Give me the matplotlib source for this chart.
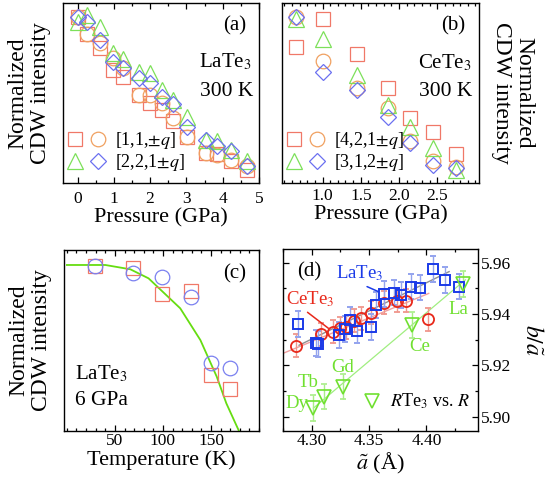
import matplotlib

matplotlib.use("Agg")
import matplotlib.pyplot as plt
from matplotlib.legend_handler import HandlerTuple
from matplotlib.ticker import FormatStrFormatter, MultipleLocator, NullLocator

plt.rcParams["font.family"] = ["Liberation Serif", "DejaVu Serif"]
plt.rcParams["mathtext.fontset"] = "stix"

# %%
# Datos

# (a) LaTe3, 300 K
p_la = [0, 0.26, 0.61, 0.97, 1.24, 1.69, 2.0, 2.32, 2.62, 3.02, 3.53, 3.85, 4.24, 4.67]
la_sq = [1.0, 0.896, 0.81, 0.68, 0.64, 0.53, 0.48, 0.44, 0.375, 0.28, 0.18, 0.175, 0.13, 0.08]
la_ci = [1.0, 0.90, 0.845, 0.75, 0.69, 0.53, 0.53, 0.48, 0.39, 0.28, 0.18, 0.17, 0.14, 0.105]
la_tr = [0.97, 1.01, 0.94, 0.78, 0.745, 0.67, 0.665, 0.56, 0.50, 0.40, 0.26, 0.25, 0.20, 0.13]
la_di = [1.0, 0.97, 0.86, 0.73, 0.69, 0.63, 0.60, 0.52, 0.475, 0.34, 0.26, 0.22, 0.19, 0.105]

# (b) CeTe3, 300 K
p_ce = [0.65, 1.0, 1.45, 1.85, 2.15, 2.45, 2.75]
ce_sq = [0.82, 0.99, 0.775, 0.575, 0.39, 0.31, 0.175]
ce_ci = [1.0, 0.735, 0.57, 0.45, 0.25, 0.135, 0.095]
ce_tr = [0.99, 0.865, 0.65, 0.47, 0.335, 0.21, 0.08]
ce_di = [1.0, 0.67, 0.56, 0.395, 0.24, 0.11, 0.09]

# (c) LaTe3, 6 GPa
t_la = [29, 69, 99, 129, 150, 170]
c_sq = [1.0, 0.986, 0.828, 0.85, 0.338, 0.251]
c_ci = [1.0, 0.956, 0.932, 0.814, 0.409, 0.379]
t_fit = [0, 40, 66, 85, 118, 139, 156, 166, 179]
i_fit = [1.006, 1.006, 0.98, 0.925, 0.743, 0.55, 0.328, 0.166, 0.0]

# (d) b/a vs a
a_la = [4.2878, 4.3035, 4.3059, 4.3242, 4.3292, 4.3336, 4.3393, 4.3516, 4.3563,
        4.3627, 4.3714, 4.3781, 4.3869, 4.3941, 4.4058, 4.4166, 4.4283]
r_la = [5.9361, 5.9288, 5.9283, 5.9318, 5.9341, 5.9377, 5.9335, 5.9348, 5.9435,
        5.9478, 5.9483, 5.9473, 5.9507, 5.9503, 5.9574, 5.9533, 5.9507]
a_ce = [4.2864, 4.3085, 4.3184, 4.3248, 4.3301, 4.3365, 4.3432, 4.3519, 4.3633,
        4.3743, 4.3825, 4.4011]
r_ce = [5.9276, 5.932, 5.9331, 5.9344, 5.9348, 5.9373, 5.9383, 5.9405, 5.9444,
        5.9451, 5.9451, 5.9380]
a_r = [4.3015, 4.3108, 4.3277, 4.3874, 4.432]
r_r = [5.9033, 5.9078, 5.9117, 5.9357, 5.9517]
nombres_r = ["Dy", "Tb", "Gd", "Ce", "La"]
pos_nombres = [(4.2869, 5.9050), (4.2971, 5.9133), (4.3274, 5.9192), (4.3946, 5.9273), (4.4283, 5.9416)]
err_la = 0.005
err_ce = 0.0045
err_r = 0.005

fit_la_x = [4.289, 4.4198]
fit_la_y = [5.9278, 5.9565]
fit_ce_x = [4.2753, 4.402]
fit_ce_y = [5.9247, 5.948]
fit_r_x = [4.3015, 4.434]
fit_r_y = [5.9033, 5.9533]

# %%
# Colores
rojo = "#f07868"
naranja = "#f0a060"
verde = "#7de05a"
azul = "#6b70f0"

fig = plt.figure(figsize=(5.48, 4.8), dpi=100)
ax_a = fig.add_axes([0.11496, 0.61875, 0.35766, 0.375])
ax_b = fig.add_axes([0.5146, 0.61875, 0.36004, 0.375])
ax_c = fig.add_axes([0.11679, 0.10271, 0.35584, 0.37646])
ax_d = fig.add_axes([0.51642, 0.10271, 0.35584, 0.37792])

for ax in [ax_a, ax_b, ax_c, ax_d]:
    for s in ax.spines.values():
        s.set_linewidth(1.0)
    ax.tick_params(which="both", direction="in", top=True, labelsize=12.5)
    ax.tick_params(which="major", length=4.5, width=0.9)
    ax.tick_params(which="minor", length=2.5, width=0.9)

kw = dict(ls="none", mfc="none", mew=0.9)
ylabel_txt = "Normalized\nCDW intensity"


def panel_presion(ax, p, sq, ci, tr, di, labels):
    h1, = ax.plot(p, sq, "s", ms=10, mec=rojo, **kw)
    h2, = ax.plot(p, ci, "o", ms=10.5, mec=naranja, **kw)
    h3, = ax.plot(p, tr, "^", ms=11, mec=verde, **kw)
    h4, = ax.plot(p, di, "D", ms=8, mec=azul, **kw)
    ax.set_ylim(0, 1.084)
    ax.yaxis.set_major_locator(NullLocator())
    ax.legend(
        [(h1, h2), (h3, h4)], labels,
        handler_map={tuple: HandlerTuple(ndivide=None, pad=0)},
        loc="lower left", bbox_to_anchor=(0.0, 0.055), frameon=False,
        fontsize=13, handlelength=2.6, handletextpad=0.3, labelspacing=0.05,
        borderpad=0, borderaxespad=0,
    )
    ax.set_xlabel("Pressure (GPa)", fontsize=16, labelpad=1)


# (a)
panel_presion(ax_a, p_la, la_sq, la_ci, la_tr, la_di,
              [r"[1,1,$\pm q$]", r"[2,2,1$\pm q$]"])
ax_a.set_xlim(-0.4, 5)
ax_a.xaxis.set_major_locator(MultipleLocator(1))
ax_a.xaxis.set_minor_locator(MultipleLocator(0.5))
ax_a.tick_params(axis="x", which="major", pad=6)
ax_a.set_ylabel(ylabel_txt, fontsize=17, va="center", linespacing=1.1)
ax_a.yaxis.set_label_coords(-0.173, 0.5)
ax_a.text(0.878, 0.875, "(a)", transform=ax_a.transAxes, fontsize=15, ha="center", va="center")
ax_a.text(0.827, 0.672, "LaTe$_3$", transform=ax_a.transAxes, fontsize=15, ha="center", va="center")
ax_a.text(0.834, 0.508, "300 K", transform=ax_a.transAxes, fontsize=15.5, ha="center", va="center")

# (b)
panel_presion(ax_b, p_ce, ce_sq, ce_ci, ce_tr, ce_di,
              [r"[4,2,1$\pm q$]", r"[3,1,2$\pm q$]"])
ax_b.set_xlim(0.47, 3.05)
ax_b.set_xticks([1.0, 1.5, 2.0, 2.5])
ax_b.xaxis.set_minor_locator(MultipleLocator(0.1))
ax_b.tick_params(axis="x", which="major", pad=3.5)
ax_b.yaxis.set_label_position("right")
ax_b.set_ylabel(ylabel_txt, fontsize=17, rotation=-90, va="center", ha="center", linespacing=1.1)
ax_b.yaxis.set_label_coords(1.168, 0.5)
ax_b.text(0.867, 0.875, "(b)", transform=ax_b.transAxes, fontsize=15, ha="center", va="center")
ax_b.text(0.825, 0.669, "CeTe$_3$", transform=ax_b.transAxes, fontsize=15, ha="center", va="center")
ax_b.text(0.829, 0.508, "300 K", transform=ax_b.transAxes, fontsize=15.5, ha="center", va="center")

# (c)
ax_c.plot(t_fit, i_fit, "-", color="#66dd11", lw=1.3)
ax_c.plot(t_la, c_sq, "s", ms=10, mec=rojo, **kw)
ax_c.plot(t_la, c_ci, "o", ms=10.5, mec="#7a80f0", **kw)
ax_c.set_xlim(-3, 200)
ax_c.set_ylim(0, 1.097)
ax_c.set_xticks([50, 100, 150])
ax_c.xaxis.set_minor_locator(MultipleLocator(10))
ax_c.yaxis.set_major_locator(NullLocator())
ax_c.tick_params(axis="x", which="major", pad=1.8)
ax_c.set_xlabel("Temperature (K)", fontsize=16, labelpad=1)
ax_c.set_ylabel(ylabel_txt, fontsize=17, va="center", linespacing=1.1)
ax_c.yaxis.set_label_coords(-0.173, 0.5)
ax_c.text(0.877, 0.867, "(c)", transform=ax_c.transAxes, fontsize=15, ha="center", va="center")
ax_c.text(0.056, 0.314, "LaTe$_3$", transform=ax_c.transAxes, fontsize=15, ha="left", va="center")
ax_c.text(0.056, 0.166, "6 GPa", transform=ax_c.transAxes, fontsize=15.5, ha="left", va="center")

# (d)
ax_d.plot(fit_ce_x, fit_ce_y, "-", color="#f0a0a0", lw=1.0)
ax_d.plot(fit_la_x, fit_la_y, "-", color="#909090", lw=1.0)
ax_d.plot(fit_r_x, fit_r_y, "-", color="#a0ee80", lw=0.9)
ax_d.errorbar(a_ce, r_ce, yerr=err_ce, fmt="o", ms=8, mfc="none", mec="#e8281a", mew=1.3,
              ecolor="#f0968c", elinewidth=1.0, capsize=2.2, capthick=1.0)
ax_d.errorbar(a_la, r_la, yerr=err_la, fmt="s", ms=7.5, mfc="none", mec="#1a3ae8", mew=1.4,
              ecolor="#93a3ee", elinewidth=1.0, capsize=2.2, capthick=1.0)
h_r = ax_d.errorbar(a_r, r_r, yerr=err_r, fmt="v", ms=9.5, mfc="none", mec="#70e030", mew=1.2,
                    ecolor="#a8ee88", elinewidth=1.0, capsize=2.2, capthick=1.0)
for nombre, (x, y) in zip(nombres_r, pos_nombres):
    ax_d.text(x, y, nombre, color="#70e030", fontsize=13.5, ha="center", va="center")
ax_d.annotate("LaTe$_3$", xy=(a_la[9], r_la[9]), xytext=(4.3417, 5.9558), color="#1a3ae8",
              fontsize=13.5, ha="center", va="center", zorder=5,
              arrowprops=dict(arrowstyle="-", color="#1a3ae8", lw=1.1, relpos=(0.5, 0.0),
                              shrinkA=1, shrinkB=4))
ax_d.annotate("CeTe$_3$", xy=(a_ce[2], r_ce[2]), xytext=(4.2986, 5.9459), color="#e8281a",
              fontsize=13.5, ha="center", va="center", zorder=5,
              arrowprops=dict(arrowstyle="-", color="#e8281a", lw=1.1, relpos=(0.35, 0.0),
                              shrinkA=1, shrinkB=4))
ax_d.text(0.134, 0.878, "(d)", transform=ax_d.transAxes, fontsize=15, ha="center", va="center")
ax_d.legend([h_r[0]], [r"$R$Te$_3$ vs. $R$"], loc="center left", bbox_to_anchor=(0.41, 0.16),
            frameon=False, fontsize=13, handlelength=1.0, handletextpad=0.5,
            borderpad=0, borderaxespad=0)
ax_d.set_xlim(4.275, 4.445)
ax_d.set_ylim(5.8945, 5.9652)
ax_d.set_xticks([4.30, 4.35, 4.40])
ax_d.xaxis.set_minor_locator(MultipleLocator(0.025))
ax_d.set_yticks([5.90, 5.92, 5.94, 5.96])
ax_d.yaxis.set_minor_locator(MultipleLocator(0.01))
ax_d.tick_params(axis="y", which="both", left=True, right=True, labelleft=False, labelright=True)
ax_d.tick_params(axis="both", which="major", pad=1.8)
ax_d.yaxis.set_major_formatter(FormatStrFormatter("%.2f"))
ax_d.xaxis.set_major_formatter(FormatStrFormatter("%.2f"))
ax_d.set_xlabel(r"$\tilde{a}$ (Å)", fontsize=16, labelpad=1)
ax_d.yaxis.set_label_position("right")
ax_d.set_ylabel(r"$b/\tilde{a}$", fontsize=17, rotation=-90, va="center", ha="center")
ax_d.yaxis.set_label_coords(1.279, 0.5)

fig.savefig("out.png", dpi=100)
plt.close(fig)
